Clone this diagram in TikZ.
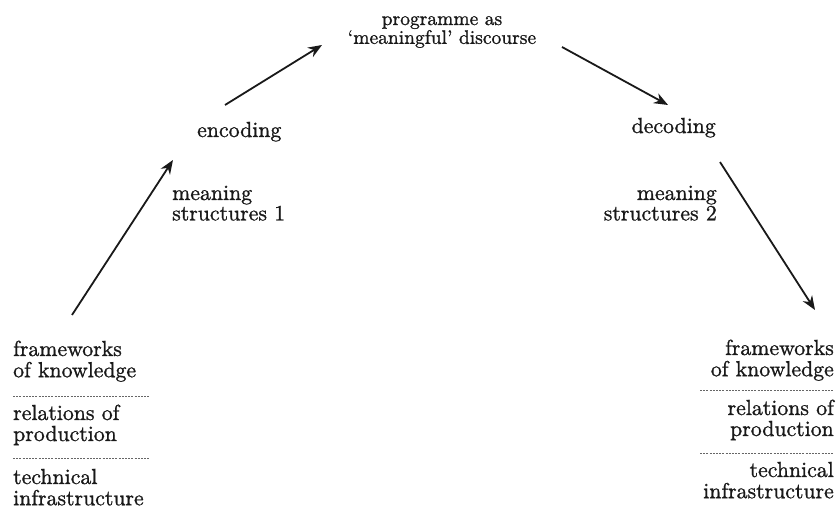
\documentclass[tikz,border=0pt]{standalone}
\usepackage{fontspec}
\usepackage{tikz}
\usetikzlibrary{arrows.meta}
\newfontfamily\diagfont{lmroman10-regular.otf}[FakeBold=1.1,Ligatures=TeX]

\tikzset{
    lbl/.style={inner sep=0pt, text=black!90, font=\diagfont\fontsize{21.8}{19.5}\selectfont},
    toplbl/.style={inner sep=0pt, text=black!90, font=\diagfont\fontsize{19.5}{17}\selectfont},
    flow/.style={line width=1.8pt, draw=black!90, -{Stealth[length=14pt,width=11pt]}},
    sep/.style={line width=0.9pt, draw=black!60, dash pattern=on 2pt off 1.2pt}
}

\begin{document}
\begin{tikzpicture}[x=1pt,y=-1pt]
        \useasboundingbox (0,0) rectangle (838,510);
        % top and middle labels
        \node[toplbl, anchor=base] (prog) at (442,25)
            {\begin{tabular}[t]{@{}c@{}}programme as\\`meaningful' discourse\end{tabular}};
        \node[lbl, anchor=base west] (enc) at (197,137) {encoding};
        \node[lbl, anchor=base east] (dec) at (716,133) {decoding};
        \node[lbl, anchor=base west] (ms1) at (172,200)
            {\begin{tabular}[t]{@{}l@{}}meaning\\structures 1\end{tabular}};
        \node[lbl, anchor=base east] (ms2) at (717,200)
            {\begin{tabular}[t]{@{}r@{}}meaning\\structures 2\end{tabular}};
        % left block
        \node[lbl, anchor=base west] (fwL) at (13,356)
            {\begin{tabular}[t]{@{}l@{}}frameworks\\of knowledge\end{tabular}};
        \node[lbl, anchor=base west] (relL) at (13,420)
            {\begin{tabular}[t]{@{}l@{}}relations of\\production\end{tabular}};
        \node[lbl, anchor=base west] (techL) at (13,484)
            {\begin{tabular}[t]{@{}l@{}}technical\\infrastructure\end{tabular}};
        \draw[sep] (13,396) -- (150,396);
        \draw[sep] (13,458) -- (150,458);
        % right block
        \node[lbl, anchor=base east] (fwR) at (834,355)
            {\begin{tabular}[t]{@{}r@{}}frameworks\\of knowledge\end{tabular}};
        \node[lbl, anchor=base east] (relR) at (834,415)
            {\begin{tabular}[t]{@{}r@{}}relations of\\production\end{tabular}};
        \node[lbl, anchor=base east] (techR) at (834,477)
            {\begin{tabular}[t]{@{}r@{}}technical\\infrastructure\end{tabular}};
        \draw[sep] (700,390) -- (834,390);
        \draw[sep] (700,453) -- (834,453);
        % arrow ends
        \coordinate (a1) at (72,315);
        \coordinate (a2) at (173,160);
        \coordinate (b1) at (225,105);
        \coordinate (b2) at (322,45);
        \coordinate (c1) at (562,47);
        \coordinate (c2) at (668,105);
        \coordinate (d1) at (720,162);
        \coordinate (d2) at (815,310);
        \draw[flow] (a1) -- (a2);
        \draw[flow] (b1) -- (b2);
        \draw[flow] (c1) -- (c2);
        \draw[flow] (d1) -- (d2);
\end{tikzpicture}
\end{document}
